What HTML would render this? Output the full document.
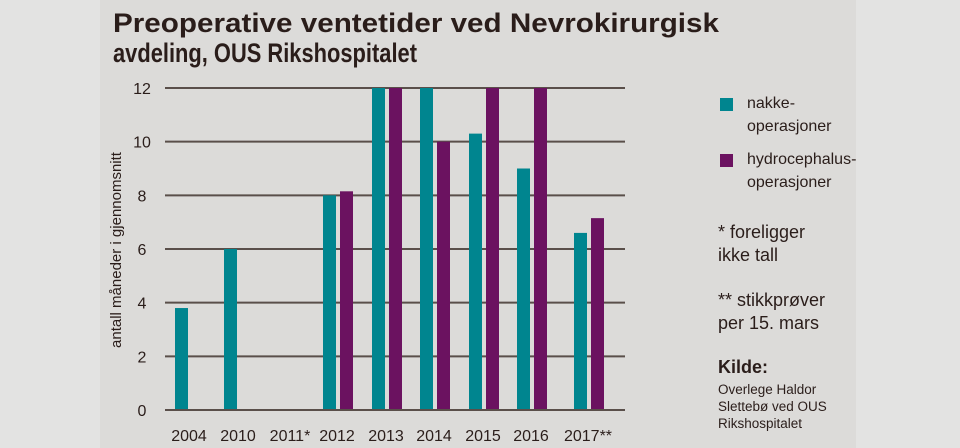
<!DOCTYPE html>
<html><head><meta charset="utf-8"><style>
html,body{margin:0;padding:0;background:#e3e3e2;}
svg{display:block}
text{font-family:"Liberation Sans Narrow","Liberation Sans",sans-serif;fill:#2a1d1a}
</style></head><body>
<svg width="960" height="448" viewBox="0 0 960 448">
<rect x="100" y="0" width="756" height="448" fill="#dcdbd9"/>
<g>
<text x="113" y="32" font-size="27" font-weight="bold" textLength="606" lengthAdjust="spacingAndGlyphs">Preoperative ventetider ved Nevrokirurgisk</text>
<text x="113" y="62" font-size="27" font-weight="bold" textLength="304" lengthAdjust="spacingAndGlyphs">avdeling, OUS Rikshospitalet</text>
</g>
<text transform="translate(121,250) rotate(-90)" text-anchor="middle" font-size="15">antall måneder i gjennomsnitt</text>
<g id="grid"></g>
<g id="bars"></g>
<g id="xlabels"></g>
<g>
<rect x="720" y="98" width="13" height="13" fill="#00858f"/>
<text x="747" y="108" font-size="16">nakke-</text>
<text x="747" y="131" font-size="16">operasjoner</text>
<rect x="720" y="154" width="13" height="13" fill="#6b1260"/>
<text x="747" y="164" font-size="16">hydrocephalus-</text>
<text x="747" y="187" font-size="16">operasjoner</text>
</g>
<g>
<text x="718" y="238" font-size="18">* foreligger</text>
<text x="718" y="261" font-size="18">ikke tall</text>
<text x="718" y="306" font-size="18">** stikkprøver</text>
<text x="718" y="329" font-size="18">per 15. mars</text>
<text x="718" y="373" font-size="18" font-weight="bold">Kilde:</text>
<text x="718" y="394" font-size="13.5">Overlege Haldor</text>
<text x="718" y="411" font-size="13.5">Slettebø ved OUS</text>
<text x="718" y="428" font-size="13.5">Rikshospitalet</text>
</g>
</svg>
<script>
const categories = ["2004","2010","2011*","2012","2013","2014","2015","2016","2017**"];
const nakke = [3.8, 6.0, null, 8.0, 12, 12, 10.3, 9.0, 6.6];
const hydro = [null, null, null, 8.15, 12, 10, 12, 12, 7.15];
const yTicks = [0, 2, 4, 6, 8, 10, 12];
const centers = [189, 238, 290, 337, 386, 434, 483, 531, 588];
const NS = "http://www.w3.org/2000/svg";
function y(v){ return 410 - v * (322/12); }
function mk(tag, attrs, parent){ const e=document.createElementNS(NS,tag); for(const k in attrs) e.setAttribute(k,attrs[k]); parent.appendChild(e); return e; }
const grid=document.getElementById('grid'), bars=document.getElementById('bars'), xl=document.getElementById('xlabels');
yTicks.forEach(t=>{
  const l=mk('line',{x1:165,x2:625,y1:y(t),y2:y(t),stroke:'#5a4f4a','stroke-width':2},grid);
  
  
  const tx=mk('text',{x:142,y:y(t)+6,'text-anchor':'middle','font-size':16},grid);
  tx.textContent=t;
  
  
});
categories.forEach((c,i)=>{
  const cx=centers[i];
  if(nakke[i]!=null){
    const r=mk('rect',{x:cx-14,y:y(nakke[i]),width:13,height:410-y(nakke[i]),fill:'#00858f'},bars);
    
    
  }
  if(hydro[i]!=null){
    const r=mk('rect',{x:cx+3,y:y(hydro[i]),width:13,height:410-y(hydro[i]),fill:'#6b1260'},bars);
    
    
  }
  const t=mk('text',{x:cx,y:441,'text-anchor':'middle','font-size':16},xl);
  t.textContent=c;
  
  
});
// redraw baseline on top
const b=mk('line',{x1:165,x2:625,y1:410,y2:410,stroke:'#5a4f4a','stroke-width':2},bars);


</script>
</body></html>
